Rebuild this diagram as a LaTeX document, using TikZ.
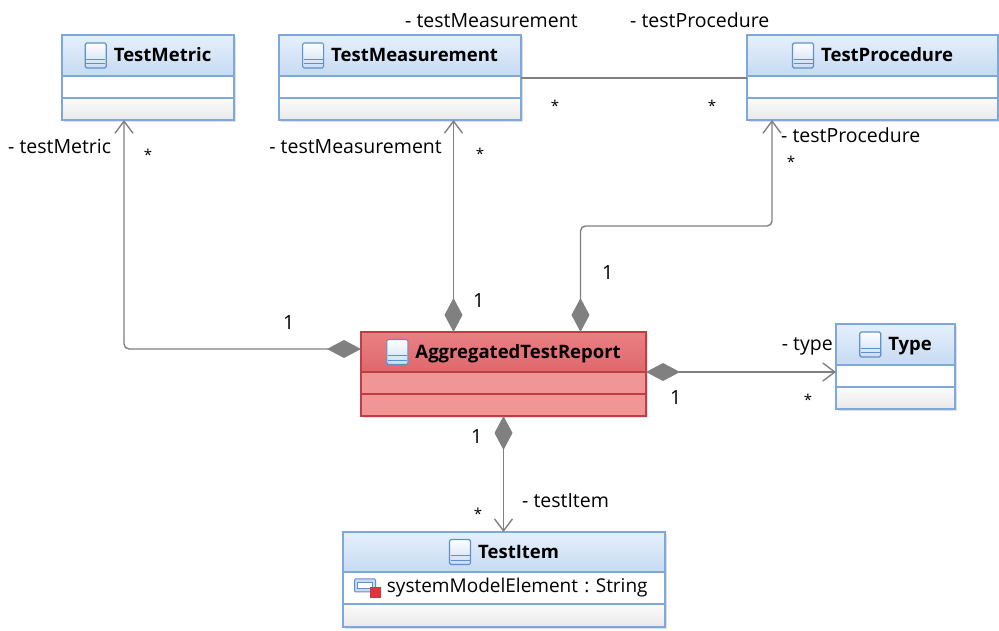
\documentclass[tikz,border=0pt]{standalone}
\usepackage{fontspec}
\setmainfont{Open Sans}
\usetikzlibrary{positioning,arrows.meta,shadows}

\definecolor{boxblue}{RGB}{126,168,218}
\definecolor{headtop}{RGB}{230,240,252}
\definecolor{headbot}{RGB}{198,218,242}
\definecolor{optop}{RGB}{251,251,251}
\definecolor{opbot}{RGB}{233,233,233}
\definecolor{boxred}{RGB}{190,62,68}
\definecolor{redtop}{RGB}{234,128,131}
\definecolor{redbot}{RGB}{222,104,108}
\definecolor{redbody}{RGB}{241,150,150}
\definecolor{linegray}{RGB}{128,128,128}
\definecolor{iconblue}{RGB}{96,144,204}
\definecolor{iconfill}{RGB}{200,220,245}
\definecolor{iconred}{RGB}{226,52,62}

% class icon and attribute icon
\newcommand{\clsicon}{\tikz[x=1pt,y=1pt,baseline=6.5pt]{%
  \draw[iconblue,line width=1.2pt,rounded corners=1.5pt,top color=white,bottom color=iconfill] (0,0) rectangle (21,25);
  \draw[iconblue,line width=1pt] (1,9) -- (20,9) (1,4.5) -- (20,4.5);}}
\newcommand{\attricon}{\tikz[x=1pt,y=1pt,baseline=4pt]{%
  \draw[iconblue,line width=1pt,rounded corners=1pt,fill=iconfill] (0,5) rectangle (21,18);
  \draw[iconblue,line width=1pt,fill=white] (3,8) rectangle (18,14);
  \draw[boxred,line width=0.8pt,fill=iconred] (16,0) rectangle (26,10);}}

\begin{document}
\begin{tikzpicture}[x=1pt,y=-1pt,
  shade/.style={drop shadow={shadow xshift=2pt,shadow yshift=-2pt,fill=black,opacity=0.12}},
  head/.style={draw=boxblue,line width=1.2pt,top color=headtop,bottom color=headbot,
    minimum height=41pt,inner sep=0pt,outer sep=0pt,anchor=north west,shade,
    font=\fontsize{18.5}{22}\selectfont\bfseries},
  redhead/.style={draw=boxred,top color=redtop,bottom color=redbot},
  attrs/.style={draw=boxblue,line width=1.2pt,fill=white,minimum height=22pt,inner sep=0pt,outer sep=0pt,shade},
  ops/.style={draw=boxblue,line width=1.2pt,top color=optop,bottom color=opbot,minimum height=22pt,inner sep=0pt,outer sep=0pt,shade},
  redpart/.style={draw=boxred,fill=redbody},
  comp/.style={draw=linegray,line width=1.4pt,rounded corners=5pt,
    {Diamond[length=34pt,width=18pt,fill=linegray]}-{Straight Barb[length=12pt,width=18pt]}},
  plain/.style={draw=linegray,line width=1.4pt},
  lbl/.style={font=\fontsize{19.5}{22}\selectfont,inner sep=0pt,anchor=base west},
  star/.style={font=\fontsize{15}{16}\selectfont,inner sep=0pt,anchor=base}]
  \useasboundingbox (0,0) rectangle (999,630);

  % classes
  \node[head,minimum width=172pt] (metric) at (62,35) {\clsicon\hspace{7pt}TestMetric};
  \node[attrs,minimum width=172pt,below=0pt of metric] (metricA) {};
  \node[ops,minimum width=172pt,below=0pt of metricA] (metricB) {};

  \node[head,minimum width=242pt] (measurement) at (279,35) {\clsicon\hspace{7pt}TestMeasurement};
  \node[attrs,minimum width=242pt,below=0pt of measurement] (measurementA) {};
  \node[ops,minimum width=242pt,below=0pt of measurementA] (measurementB) {};

  \node[head,minimum width=251pt] (procedure) at (747,35) {\clsicon\hspace{7pt}TestProcedure};
  \node[attrs,minimum width=251pt,below=0pt of procedure] (procedureA) {};
  \node[ops,minimum width=251pt,below=0pt of procedureA] (procedureB) {};

  \node[head,redhead,minimum width=285pt,minimum height=40pt] (report) at (361,332) {\clsicon\hspace{7pt}AggregatedTestReport};
  \node[attrs,redpart,minimum width=285pt,below=0pt of report] (reportA) {};
  \node[attrs,redpart,minimum width=285pt,below=0pt of reportA] (reportB) {};

  \node[head,minimum width=119pt] (type) at (836,324) {\clsicon\hspace{7pt}Type};
  \node[attrs,minimum width=119pt,below=0pt of type] (typeA) {};
  \node[ops,minimum width=119pt,below=0pt of typeA] (typeB) {};

  \node[head,minimum width=322pt,minimum height=40pt] (item) at (343,532) {\clsicon\hspace{7pt}TestItem};
  \node[attrs,minimum width=322pt,minimum height=32pt,below=0pt of item,
    text width=318pt,align=left,font=\fontsize{19}{22}\selectfont] (itemA) {\hspace*{9pt}\attricon\hspace{6pt}systemModelElement :\ String};
  \node[ops,minimum width=322pt,minimum height=23pt,below=0pt of itemA] (itemB) {};

  % associations
  \draw[comp] ([yshift=3pt]report.west) -| ([xshift=-24pt]metricB.south);
  \draw[comp] ([xshift=-50pt]report.north) -- ([xshift=-50pt]report.north |- measurementB.south);
  \draw[comp] ([xshift=77pt]report.north) |- ([xshift=25pt,yshift=-106pt]procedureB.south west)
    -- ([xshift=25pt]procedureB.south west);
  \draw[comp] (report.south east) -- (report.south east -| type.west);
  \draw[comp] (reportB.south) -- (reportB.south |- item.north);
  \draw[plain] ([yshift=-2pt]measurement.south east) -- ([yshift=-2pt]measurement.south east -| procedure.west);

  % role names and multiplicities
  \node[lbl] (rMetric) at (8,153) {- testMetric};
  \node[star] (mMetric) at (148,160) {*};
  \node[lbl] (oMetric) at (283,329) {1};
  \node[lbl,anchor=base east] (rMeasurement) at (442,153) {- testMeasurement};
  \node[star] (mMeasurement) at (480,159) {*};
  \node[lbl] (oMeasurement) at (473,307) {1};
  \node[lbl] (rMeasTop) at (405,27) {- testMeasurement};
  \node[lbl] (rProcTop) at (630,27) {- testProcedure};
  \node[star] (mMeasTop) at (555,111) {*};
  \node[star] (mProcTop) at (712,111) {*};
  \node[lbl] (rProcedure) at (781,142) {- testProcedure};
  \node[star] (mProcedure) at (791,167) {*};
  \node[lbl] (oProcedure) at (602,279) {1};
  \node[lbl,anchor=base east] (rType) at (833,350) {- type};
  \node[star] (mType) at (808,405) {*};
  \node[lbl] (oType) at (670,404) {1};
  \node[lbl] (oItem) at (471,443) {1};
  \node[lbl] (rItem) at (522,507) {- testItem};
  \node[star] (mItem) at (478,519) {*};
\end{tikzpicture}
\end{document}
